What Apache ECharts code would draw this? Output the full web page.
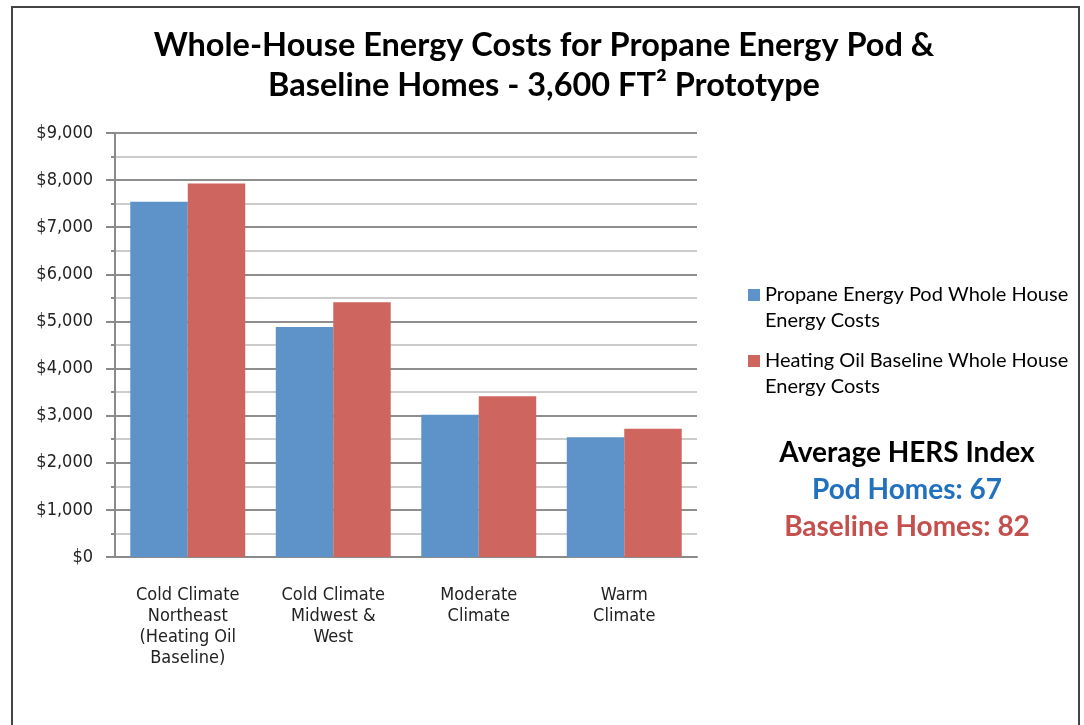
<!DOCTYPE html>
<html>
<head>
    <meta charset="utf-8">
    <title>ECharts</title>
    <script src="https://cdn.jsdelivr.net/npm/echarts@6/dist/echarts.min.js"></script>
    <style>
        *{
            margin: 0;
            padding: 0;
        }
        html,body{
            width: 100%;
            height: 100%;
            overflow: hidden;
            background: #fff;
        }
        #main{
            width: 1084px;
            height: 725px;
        }
    </style>
</head>
<body>
<div id="main"></div>
</body>
</html>
<script>
    // climate zones on the x axis
    let categories = [
        'Cold Climate\nNortheast\n(Heating Oil\nBaseline)',
        'Cold Climate\nMidwest &\nWest',
        'Moderate\nClimate',
        'Warm\nClimate'
    ];
    let seriesNames = [
        'Propane Energy Pod Whole House Energy Costs',
        'Heating Oil Baseline Whole House Energy Costs'
    ];
    // values ($ per year)
    let podCosts = [7540, 4880, 3020, 2540];
    let baselineCosts = [7930, 5410, 3410, 2720];
    let hersLines = ['Average HERS Index', 'Pod Homes: 67', 'Baseline Homes: 82'];

    let axisFont = 'DejaVu Sans Condensed';

    let myCharts = echarts.init(document.getElementById('main'));

    let option = {
        backgroundColor: '#fff',
        animation: false,
        title: [{
            text: 'Whole-House Energy Costs for Propane Energy Pod &\nBaseline Homes - 3,600 FT² Prototype',
            left: 544,
            top: 26,
            padding: 0,
            textAlign: 'center',
            textStyle: {
                fontFamily: 'Lato',
                fontWeight: 'bold',
                fontSize: 32.5,
                lineHeight: 40,
                color: '#000'
            }
        }, {
            text: hersLines[0],
            left: 907,
            top: 439,
            padding: 0,
            textAlign: 'center',
            textStyle: {fontFamily: 'Lato', fontWeight: 'bold', fontSize: 28, color: '#000'}
        }, {
            text: hersLines[1],
            left: 907,
            top: 476,
            padding: 0,
            textAlign: 'center',
            textStyle: {fontFamily: 'Lato', fontWeight: 'bold', fontSize: 28, color: '#2171bf'}
        }, {
            text: hersLines[2],
            left: 907,
            top: 513,
            padding: 0,
            textAlign: 'center',
            textStyle: {fontFamily: 'Lato', fontWeight: 'bold', fontSize: 28, color: '#c4504d'}
        }],
        graphic: [{
            type: 'rect',
            shape: {x: 12, y: 7, width: 1067, height: 740},
            style: {fill: 'none', stroke: '#444', lineWidth: 2},
            silent: true
        }],
        legend: {
            orient: 'vertical',
            left: 743,
            top: 251,
            itemWidth: 12,
            itemHeight: 12,
            itemGap: -12,
            icon: 'rect',
            data: seriesNames,
            // blank first line so the square sits level with the first text line
            formatter: function (name) {
                return '\n' + name.replace(' Whole House ', ' Whole House\n');
            },
            textStyle: {
                fontFamily: 'Lato',
                fontSize: 20,
                lineHeight: 26,
                color: '#000'
            }
        },
        grid: {
            left: 115,
            right: 387,
            top: 133,
            bottom: 168
        },
        xAxis: {
            type: 'category',
            data: categories,
            axisLine: {lineStyle: {color: '#8a8a8a', width: 2}},
            axisTick: {length: 7, lineStyle: {color: '#8a8a8a', width: 2}},
            axisLabel: {
                interval: 0,
                margin: 28,
                fontFamily: axisFont,
                fontSize: 18,
                lineHeight: 21,
                color: '#222'
            }
        },
        yAxis: {
            type: 'value',
            min: 0,
            max: 9000,
            interval: 1000,
            axisLine: {show: true, lineStyle: {color: '#8a8a8a', width: 2}},
            axisTick: {show: true, length: 9, lineStyle: {color: '#8a8a8a', width: 2}},
            minorTick: {show: true, splitNumber: 2, length: 4, lineStyle: {color: '#8a8a8a', width: 2}},
            splitLine: {lineStyle: {color: '#8e8e8e', width: 2}},
            minorSplitLine: {show: true, lineStyle: {color: '#cccccc', width: 2}},
            axisLabel: {
                margin: 22,
                fontFamily: axisFont,
                fontSize: 18,
                color: '#222',
                formatter: function (v) {
                    return '$' + v.toLocaleString('en-US');
                }
            }
        },
        series: [{
            name: seriesNames[0],
            type: 'bar',
            data: podCosts,
            barGap: '0%',
            barCategoryGap: '21%',
            itemStyle: {color: '#5d93c9'}
        }, {
            name: seriesNames[1],
            type: 'bar',
            data: baselineCosts,
            barGap: '0%',
            barCategoryGap: '21%',
            itemStyle: {color: '#cf655f'}
        }]
    };
    myCharts.setOption(option);
</script>
